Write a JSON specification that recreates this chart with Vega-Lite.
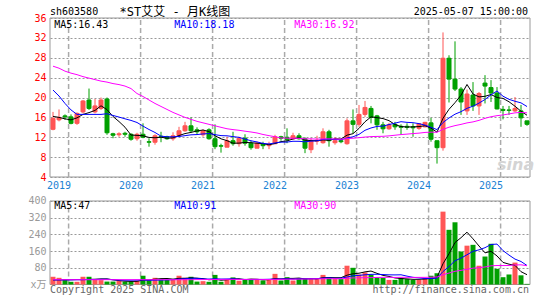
{
  "$schema": "https://vega.github.io/schema/vega-lite/v6.json",
  "width": 480,
  "height": 267,
  "autosize": {"type": "none"},
  "padding": {"left": 50, "top": 18, "right": 15, "bottom": 15},
  "background": "white",
  "config": {"view": {"stroke": null}},
  "datasets": {
    "k": [
      {"m":"2018-10","o":13.6,"h":17.1,"l":13.4,"c":15.8,"v":37,"ma5":16.2,"ma10":21.5,"ma30":26.3,"vma5":22,"vma10":22,"vma30":23},
      {"m":"2018-11","o":15.5,"h":17.6,"l":15.2,"c":16.0,"v":32,"ma5":16.0,"ma10":20.3,"ma30":25.9,"vma5":22,"vma10":22,"vma30":23},
      {"m":"2018-12","o":16.3,"h":16.6,"l":15.5,"c":16.1,"v":22,"ma5":15.7,"ma10":18.8,"ma30":25.3,"vma5":23,"vma10":22,"vma30":23},
      {"m":"2019-01","o":16.1,"h":16.6,"l":14.6,"c":14.8,"v":13,"ma5":15.5,"ma10":17.5,"ma30":24.9,"vma5":23,"vma10":22,"vma30":23},
      {"m":"2019-02","o":14.8,"h":17.0,"l":14.5,"c":16.8,"v":13,"ma5":15.9,"ma10":16.6,"ma30":24.6,"vma5":23.4,"vma10":23,"vma30":23},
      {"m":"2019-03","o":17.1,"h":19.5,"l":16.8,"c":19.3,"v":37,"ma5":16.6,"ma10":16.6,"ma30":24.2,"vma5":23.4,"vma10":23,"vma30":23},
      {"m":"2019-04","o":19.5,"h":21.8,"l":17.5,"c":17.8,"v":37,"ma5":16.96,"ma10":16.6,"ma30":23.9,"vma5":24.4,"vma10":24,"vma30":23},
      {"m":"2019-05","o":17.1,"h":19.7,"l":16.8,"c":18.3,"v":26,"ma5":17.4,"ma10":16.6,"ma30":23.6,"vma5":25.2,"vma10":24,"vma30":23},
      {"m":"2019-06","o":17.8,"h":20.0,"l":17.5,"c":19.5,"v":21,"ma5":18.34,"ma10":16.6,"ma30":23.3,"vma5":26.8,"vma10":25,"vma30":23},
      {"m":"2019-07","o":19.7,"h":20.0,"l":12.5,"c":12.9,"v":14,"ma5":17.56,"ma10":16.73,"ma30":23.1,"vma5":27,"vma10":25.2,"vma30":23},
      {"m":"2019-08","o":12.7,"h":12.9,"l":11.8,"c":12.4,"v":14,"ma5":16.18,"ma10":16.39,"ma30":22.8,"vma5":22.4,"vma10":22.9,"vma30":23},
      {"m":"2019-09","o":12.5,"h":13.0,"l":12.1,"c":12.7,"v":18,"ma5":15.16,"ma10":16.06,"ma30":22.6,"vma5":18.6,"vma10":21.5,"vma30":23},
      {"m":"2019-10","o":12.8,"h":13.1,"l":12.1,"c":12.6,"v":14,"ma5":14.02,"ma10":15.71,"ma30":22.3,"vma5":16.2,"vma10":20.7,"vma30":23},
      {"m":"2019-11","o":12.6,"h":12.8,"l":11.3,"c":11.6,"v":13,"ma5":12.44,"ma10":15.39,"ma30":21.8,"vma5":14.6,"vma10":20.7,"vma30":23},
      {"m":"2019-12","o":11.7,"h":12.9,"l":11.3,"c":12.6,"v":18,"ma5":12.38,"ma10":14.97,"ma30":20.8,"vma5":15.4,"vma10":21.2,"vma30":23},
      {"m":"2020-01","o":12.6,"h":14.8,"l":11.8,"c":12.0,"v":42,"ma5":12.3,"ma10":14.24,"ma30":20.2,"vma5":21,"vma10":21.7,"vma30":23},
      {"m":"2020-02","o":11.1,"h":11.8,"l":10.1,"c":11.0,"v":22,"ma5":11.96,"ma10":13.56,"ma30":19.5,"vma5":21.8,"vma10":20.2,"vma30":23},
      {"m":"2020-03","o":11.0,"h":12.6,"l":10.5,"c":12.3,"v":32,"ma5":11.9,"ma10":12.96,"ma30":18.8,"vma5":25.4,"vma10":20.8,"vma30":23},
      {"m":"2020-04","o":12.2,"h":13.1,"l":11.0,"c":12.1,"v":26,"ma5":12.0,"ma10":12.22,"ma30":18.2,"vma5":28,"vma10":21.3,"vma30":23},
      {"m":"2020-05","o":12.1,"h":12.3,"l":11.5,"c":11.7,"v":22,"ma5":11.82,"ma10":12.1,"ma30":17.6,"vma5":28.8,"vma10":22.1,"vma30":23},
      {"m":"2020-06","o":11.7,"h":13.0,"l":11.3,"c":12.3,"v":26,"ma5":11.88,"ma10":12.09,"ma30":17.0,"vma5":25.6,"vma10":23.3,"vma30":23},
      {"m":"2020-07","o":12.3,"h":14.1,"l":12.1,"c":13.3,"v":42,"ma5":12.34,"ma10":12.15,"ma30":16.5,"vma5":29.6,"vma10":25.7,"vma30":23},
      {"m":"2020-08","o":13.3,"h":15.1,"l":13.1,"c":14.3,"v":32,"ma5":12.74,"ma10":12.32,"ma30":16.0,"vma5":29.6,"vma10":27.5,"vma30":23},
      {"m":"2020-09","o":14.3,"h":16.0,"l":12.9,"c":13.3,"v":37,"ma5":12.98,"ma10":12.49,"ma30":15.6,"vma5":31.8,"vma10":29.9,"vma30":23},
      {"m":"2020-10","o":13.5,"h":14.0,"l":12.5,"c":13.1,"v":14,"ma5":13.26,"ma10":12.54,"ma30":15.2,"vma5":30.2,"vma10":29.5,"vma30":23.5},
      {"m":"2020-11","o":12.5,"h":13.6,"l":12.1,"c":13.3,"v":16,"ma5":13.46,"ma10":12.67,"ma30":14.9,"vma5":28.2,"vma10":26.9,"vma30":23.5},
      {"m":"2020-12","o":13.5,"h":13.8,"l":11.5,"c":11.7,"v":13,"ma5":13.14,"ma10":12.74,"ma30":14.6,"vma5":22.4,"vma10":26,"vma30":24},
      {"m":"2021-01","o":11.7,"h":14.6,"l":9.6,"c":10.1,"v":46,"ma5":12.3,"ma10":12.52,"ma30":14.3,"vma5":25.2,"vma10":27.4,"vma30":24},
      {"m":"2021-02","o":10.3,"h":10.7,"l":8.9,"c":10.2,"v":13,"ma5":11.68,"ma10":12.33,"ma30":14.0,"vma5":20.4,"vma10":26.1,"vma30":24.3},
      {"m":"2021-03","o":10.0,"h":12.1,"l":10.0,"c":11.3,"v":26,"ma5":11.32,"ma10":12.29,"ma30":13.71,"vma5":22.8,"vma10":26.5,"vma30":24.6},
      {"m":"2021-04","o":11.3,"h":13.1,"l":10.3,"c":10.7,"v":34,"ma5":10.8,"ma10":12.13,"ma30":13.54,"vma5":26.4,"vma10":27.3,"vma30":24.5},
      {"m":"2021-05","o":10.7,"h":12.1,"l":10.1,"c":11.8,"v":18,"ma5":10.82,"ma10":11.98,"ma30":13.4,"vma5":27.4,"vma10":24.9,"vma30":24.0},
      {"m":"2021-06","o":11.8,"h":12.6,"l":10.3,"c":10.8,"v":26,"ma5":10.96,"ma10":11.63,"ma30":13.22,"vma5":23.4,"vma10":24.3,"vma30":24.2},
      {"m":"2021-07","o":10.8,"h":11.3,"l":9.5,"c":9.9,"v":26,"ma5":10.9,"ma10":11.29,"ma30":13.06,"vma5":26,"vma10":23.2,"vma30":24.6},
      {"m":"2021-08","o":9.8,"h":11.1,"l":9.8,"c":10.8,"v":22,"ma5":10.8,"ma10":11.06,"ma30":12.86,"vma5":25.2,"vma10":24,"vma30":24.9},
      {"m":"2021-09","o":10.7,"h":11.1,"l":9.6,"c":10.3,"v":19,"ma5":10.72,"ma10":10.76,"ma30":12.56,"vma5":22.2,"vma10":24.3,"vma30":24.3},
      {"m":"2021-10","o":10.3,"h":11.1,"l":9.6,"c":10.6,"v":22,"ma5":10.48,"ma10":10.65,"ma30":12.32,"vma5":23,"vma10":25.2,"vma30":23.8},
      {"m":"2021-11","o":10.7,"h":12.5,"l":10.6,"c":12.1,"v":51,"ma5":10.74,"ma10":10.85,"ma30":12.11,"vma5":28,"vma10":25.7,"vma30":24.6},
      {"m":"2021-12","o":12.1,"h":12.3,"l":11.3,"c":11.8,"v":19,"ma5":11.12,"ma10":11.01,"ma30":11.85,"vma5":26.6,"vma10":26.3,"vma30":24.6},
      {"m":"2022-01","o":12.0,"h":13.8,"l":10.8,"c":11.5,"v":35,"ma5":11.26,"ma10":11.03,"ma30":11.81,"vma5":29.2,"vma10":27.2,"vma30":25.3},
      {"m":"2022-02","o":11.7,"h":12.9,"l":11.5,"c":12.3,"v":19,"ma5":11.66,"ma10":11.19,"ma30":11.8,"vma5":29.2,"vma10":25.7,"vma30":25.4},
      {"m":"2022-03","o":12.3,"h":12.8,"l":11.5,"c":11.7,"v":30,"ma5":11.88,"ma10":11.18,"ma30":11.77,"vma5":30.8,"vma10":26.9,"vma30":25.8},
      {"m":"2022-04","o":11.7,"h":12.0,"l":8.8,"c":9.8,"v":30,"ma5":11.42,"ma10":11.08,"ma30":11.68,"vma5":26.6,"vma10":27.3,"vma30":26.4},
      {"m":"2022-05","o":9.5,"h":11.8,"l":8.8,"c":11.3,"v":26,"ma5":11.32,"ma10":11.22,"ma30":11.67,"vma5":28,"vma10":27.3,"vma30":26.8},
      {"m":"2022-06","o":11.2,"h":12.3,"l":10.5,"c":11.4,"v":30,"ma5":11.3,"ma10":11.28,"ma30":11.63,"vma5":27,"vma10":28.1,"vma30":27.2},
      {"m":"2022-07","o":10.9,"h":13.8,"l":10.7,"c":13.1,"v":46,"ma5":11.46,"ma10":11.56,"ma30":11.66,"vma5":32.4,"vma10":30.8,"vma30":27.3},
      {"m":"2022-08","o":13.1,"h":13.5,"l":10.1,"c":11.3,"v":35,"ma5":11.38,"ma10":11.63,"ma30":11.67,"vma5":33.4,"vma10":32.1,"vma30":27.8},
      {"m":"2022-09","o":10.9,"h":12.0,"l":10.5,"c":11.3,"v":26,"ma5":11.68,"ma10":11.55,"ma30":11.64,"vma5":32.6,"vma10":29.6,"vma30":27.6},
      {"m":"2022-10","o":11.3,"h":11.6,"l":10.8,"c":11.1,"v":26,"ma5":11.64,"ma10":11.48,"ma30":11.61,"vma5":32.6,"vma10":30.3,"vma30":27.6},
      {"m":"2022-11","o":10.7,"h":15.8,"l":10.5,"c":15.3,"v":90,"ma5":12.42,"ma10":11.86,"ma30":11.73,"vma5":44.6,"vma10":35.8,"vma30":29.8},
      {"m":"2022-12","o":15.3,"h":17.6,"l":12.8,"c":14.6,"v":80,"ma5":12.72,"ma10":12.09,"ma30":11.8,"vma5":51.4,"vma10":41.9,"vma30":31.6},
      {"m":"2023-01","o":14.6,"h":18.5,"l":14.1,"c":16.6,"v":48,"ma5":13.78,"ma10":12.58,"ma30":11.91,"vma5":54,"vma10":43.7,"vma30":31.8},
      {"m":"2023-02","o":16.6,"h":19.3,"l":16.1,"c":18.0,"v":58,"ma5":15.12,"ma10":13.4,"ma30":12.04,"vma5":60.4,"vma10":46.5,"vma30":32.7},
      {"m":"2023-03","o":17.8,"h":18.3,"l":14.8,"c":16.0,"v":46,"ma5":16.1,"ma10":13.87,"ma30":12.13,"vma5":64.4,"vma10":48.5,"vma30":33},
      {"m":"2023-04","o":16.3,"h":16.5,"l":13.5,"c":14.5,"v":35,"ma5":15.94,"ma10":14.18,"ma30":12.17,"vma5":53.4,"vma10":49,"vma30":33.7},
      {"m":"2023-05","o":14.5,"h":15.1,"l":12.8,"c":13.7,"v":32,"ma5":15.76,"ma10":14.24,"ma30":12.19,"vma5":43.8,"vma10":47.6,"vma30":34.2},
      {"m":"2023-06","o":13.7,"h":14.9,"l":13.5,"c":14.5,"v":22,"ma5":15.34,"ma10":14.56,"ma30":12.28,"vma5":38.6,"vma10":46.3,"vma30":34.5},
      {"m":"2023-07","o":14.6,"h":15.1,"l":13.5,"c":14.1,"v":22,"ma5":14.56,"ma10":14.84,"ma30":12.41,"vma5":31.4,"vma10":45.9,"vma30":33.7},
      {"m":"2023-08","o":14.2,"h":14.6,"l":12.5,"c":14.0,"v":32,"ma5":14.16,"ma10":15.13,"ma30":12.54,"vma5":28.6,"vma10":46.5,"vma30":34.4},
      {"m":"2023-09","o":14.2,"h":14.8,"l":13.5,"c":14.0,"v":26,"ma5":14.06,"ma10":15.0,"ma30":12.63,"vma5":26.8,"vma10":40.1,"vma30":34.4},
      {"m":"2023-10","o":14.1,"h":14.8,"l":12.1,"c":13.9,"v":22,"ma5":14.1,"ma10":14.93,"ma30":12.74,"vma5":24.8,"vma10":34.3,"vma30":34},
      {"m":"2023-11","o":13.8,"h":14.8,"l":13.5,"c":14.7,"v":22,"ma5":14.14,"ma10":14.74,"ma30":12.83,"vma5":24.8,"vma10":31.7,"vma30":34.1},
      {"m":"2023-12","o":14.1,"h":15.1,"l":14.0,"c":15.0,"v":30,"ma5":14.32,"ma10":14.44,"ma30":12.97,"vma5":26.4,"vma10":28.9,"vma30":34.2},
      {"m":"2024-01","o":14.9,"h":15.9,"l":11.1,"c":11.6,"v":42,"ma5":13.84,"ma10":14.0,"ma30":13.03,"vma5":28.4,"vma10":28.5,"vma30":34.8},
      {"m":"2024-02","o":11.3,"h":11.3,"l":6.7,"c":9.9,"v":54,"ma5":13.02,"ma10":13.54,"ma30":13.0,"vma5":34,"vma10":30.4,"vma30":35.8},
      {"m":"2024-03","o":9.9,"h":33.1,"l":9.3,"c":27.9,"v":349,"ma5":15.82,"ma10":14.96,"ma30":13.59,"vma5":99.4,"vma10":62.1,"vma30":46.8},
      {"m":"2024-04","o":27.9,"h":28.5,"l":19.0,"c":23.7,"v":262,"ma5":17.62,"ma10":15.88,"ma30":14.02,"vma5":147.4,"vma10":86.1,"vma30":54.8},
      {"m":"2024-05","o":23.7,"h":31.3,"l":21.3,"c":21.7,"v":298,"ma5":18.96,"ma10":16.64,"ma30":14.34,"vma5":201,"vma10":113.7,"vma30":63.1},
      {"m":"2024-06","o":21.7,"h":22.1,"l":16.5,"c":19.1,"v":158,"ma5":20.46,"ma10":17.15,"ma30":14.59,"vma5":224.2,"vma10":126.3,"vma30":67.7},
      {"m":"2024-07","o":17.3,"h":21.6,"l":16.5,"c":20.7,"v":186,"ma5":22.62,"ma10":17.82,"ma30":14.89,"vma5":250.6,"vma10":142.3,"vma30":72.7},
      {"m":"2024-08","o":20.5,"h":23.1,"l":17.3,"c":18.3,"v":190,"ma5":20.7,"ma10":18.26,"ma30":15.09,"vma5":218.8,"vma10":159.1,"vma30":78.4},
      {"m":"2024-09","o":18.3,"h":21.1,"l":16.5,"c":20.8,"v":90,"ma5":20.12,"ma10":18.87,"ma30":15.4,"vma5":184.4,"vma10":165.9,"vma30":80.4},
      {"m":"2024-10","o":22.9,"h":24.5,"l":18.8,"c":22.3,"v":134,"ma5":20.24,"ma10":19.6,"ma30":15.81,"vma5":151.6,"vma10":176.3,"vma30":83.9},
      {"m":"2024-11","o":22.0,"h":23.5,"l":19.1,"c":20.9,"v":195,"ma5":20.6,"ma10":20.53,"ma30":16.13,"vma5":159,"vma10":191.6,"vma30":89.5},
      {"m":"2024-12","o":20.9,"h":22.1,"l":17.6,"c":17.7,"v":75,"ma5":20.0,"ma10":21.31,"ma30":16.34,"vma5":136.8,"vma10":193.7,"vma30":91},
      {"m":"2025-01","o":17.6,"h":18.3,"l":15.6,"c":17.4,"v":35,"ma5":19.82,"ma10":20.26,"ma30":16.49,"vma5":105.8,"vma10":162.3,"vma30":90.7},
      {"m":"2025-02","o":17.5,"h":18.3,"l":16.5,"c":17.4,"v":48,"ma5":19.14,"ma10":19.63,"ma30":16.69,"vma5":97.4,"vma10":140.9,"vma30":91.1},
      {"m":"2025-03","o":17.3,"h":20.1,"l":17.1,"c":17.8,"v":105,"ma5":18.24,"ma10":19.24,"ma30":16.91,"vma5":91.6,"vma10":121.6,"vma30":93.7},
      {"m":"2025-04","o":17.3,"h":18.5,"l":14.1,"c":15.9,"v":44,"ma5":17.24,"ma10":18.92,"ma30":17.0,"vma5":61.4,"vma10":110.2,"vma30":94.3},
      {"m":"2025-05","o":15.3,"h":15.3,"l":14.3,"c":14.6,"v":3,"ma5":16.43,"ma10":18.18,"ma30":16.92,"vma5":47,"vma10":91,"vma30":90}
    ],
    "years": [
      {"m":"2019-01"},{"m":"2020-01"},{"m":"2021-01"},{"m":"2022-01"},{"m":"2023-01"},{"m":"2024-01"},{"m":"2025-01"}
    ]
  },
  "data": {"name": "k"},
  "layer": [
    {
      "layer": [
        {
          "data": {"values": [{}]},
          "mark": {"type": "rect", "fill": "transparent", "stroke": "#999999", "strokeWidth": 1},
          "encoding": {
            "y": {"datum": 4, "type": "quantitative", "scale": {"domain": [-17.735, 36], "nice": false, "zero": false}},
            "y2": {"datum": 36}
          }
        },
        {
          "data": {"name": "years"},
          "mark": {"type": "rule", "color": "#aaaaaa", "strokeWidth": 1.5, "strokeDash": [5, 3]},
          "encoding": {
            "x": {"field": "m", "type": "ordinal", "scale": {"type": "band", "paddingInner": 0, "paddingOuter": 0}, "bandPosition": 0.1},
            "y": {"datum": 4, "type": "quantitative", "scale": {"domain": [-17.735, 36], "nice": false, "zero": false}},
            "y2": {"datum": 36}
          }
        },
        {
          "mark": {"type": "rule", "strokeWidth": 1},
          "encoding": {
            "x": {"field": "m", "type": "ordinal", "scale": {"type": "band", "paddingInner": 0, "paddingOuter": 0}, "bandPosition": 0.5,
              "axis": {"title": null, "orient": "bottom", "offset": -108, "values": ["2019-01","2020-01","2021-01","2022-01","2023-01","2024-01","2025-01"], "labelExpr": "substring(datum.label, 0, 4)", "bandPosition": 0.1, "domain": false, "ticks": false, "grid": false, "labelColor": "#1a82d3", "labelFont": "DejaVu Sans Mono", "labelFontSize": 10, "labelPadding": 8, "labelAngle": 0, "labelOverlap": false}},
            "y": {"field": "l", "type": "quantitative", "scale": {"domain": [-17.735, 36], "nice": false, "zero": false},
              "axis": {"title": null, "orient": "left", "values": [4, 8, 12, 16, 20, 24, 28, 32, 36], "tickCount": 30, "grid": true, "gridDash": [2, 2], "gridColor": "#999999", "gridOpacity": 1, "domain": false, "ticks": false, "labelColor": "#ff0000", "labelFont": "DejaVu Sans Mono", "labelFontSize": 10, "labelPadding": 4, "labelOverlap": false}},
            "y2": {"field": "h"},
            "color": {"condition": {"test": "datum.c >= datum.o", "value": "#ff5555"}, "value": "#00a000"}
          }
        },
        {
          "mark": {"type": "bar", "size": 4, "strokeWidth": 1},
          "encoding": {
            "x": {"field": "m", "type": "ordinal", "scale": {"type": "band", "paddingInner": 0, "paddingOuter": 0}},
            "y": {"field": "o", "type": "quantitative", "scale": {"domain": [-17.735, 36], "nice": false, "zero": false}},
            "y2": {"field": "c"},
            "fill": {"condition": {"test": "datum.c >= datum.o", "value": "#ff5555"}, "value": "#00a000"},
            "stroke": {"condition": {"test": "datum.c >= datum.o", "value": "#ff5555"}, "value": "#00a000"}
          }
        },
        {
          "mark": {"type": "line", "strokeWidth": 1, "color": "#000000"},
          "encoding": {
            "x": {"field": "m", "type": "ordinal", "scale": {"type": "band", "paddingInner": 0, "paddingOuter": 0}, "bandPosition": 0.5},
            "y": {"field": "ma5", "type": "quantitative", "scale": {"domain": [-17.735, 36], "nice": false, "zero": false}}
          }
        },
        {
          "mark": {"type": "line", "strokeWidth": 1, "color": "#0000ff"},
          "encoding": {
            "x": {"field": "m", "type": "ordinal", "scale": {"type": "band", "paddingInner": 0, "paddingOuter": 0}, "bandPosition": 0.5},
            "y": {"field": "ma10", "type": "quantitative", "scale": {"domain": [-17.735, 36], "nice": false, "zero": false}}
          }
        },
        {
          "mark": {"type": "line", "strokeWidth": 1, "color": "#ff00ff"},
          "encoding": {
            "x": {"field": "m", "type": "ordinal", "scale": {"type": "band", "paddingInner": 0, "paddingOuter": 0}, "bandPosition": 0.5},
            "y": {"field": "ma30", "type": "quantitative", "scale": {"domain": [-17.735, 36], "nice": false, "zero": false}}
          }
        },
        {
          "data": {"values": [{}]},
          "mark": {"type": "text", "text": "sina", "align": "left", "baseline": "middle", "font": "DejaVu Sans", "fontSize": 16, "fontWeight": "bold", "fontStyle": "italic", "color": "#d4d4d4"},
          "encoding": {
            "x": {"datum": "2024-12", "type": "ordinal", "scale": {"type": "band", "paddingInner": 0, "paddingOuter": 0}, "bandPosition": 0.5},
            "y": {"datum": 6.4, "type": "quantitative", "scale": {"domain": [-17.735, 36], "nice": false, "zero": false}}
          }
        },
        {
          "data": {"values": [{}]},
          "mark": {"type": "text", "text": "sh603580", "align": "left", "baseline": "middle", "font": "DejaVu Sans Mono", "fontSize": 10, "color": "#000000"},
          "encoding": {
            "x": {"datum": "2018-10", "type": "ordinal", "scale": {"type": "band", "paddingInner": 0, "paddingOuter": 0}, "bandPosition": 0},
            "y": {"datum": 37.21, "type": "quantitative", "scale": {"domain": [-17.735, 36], "nice": false, "zero": false}}
          }
        },
        {
          "data": {"values": [{}]},
          "mark": {"type": "text", "text": "*ST艾艾 - 月K线图", "align": "left", "baseline": "middle", "font": "DejaVu Sans Mono, Noto Sans CJK SC", "fontSize": 12, "color": "#000000"},
          "encoding": {
            "x": {"datum": "2019-09", "type": "ordinal", "scale": {"type": "band", "paddingInner": 0, "paddingOuter": 0}, "bandPosition": 0.6},
            "y": {"datum": 37.21, "type": "quantitative", "scale": {"domain": [-17.735, 36], "nice": false, "zero": false}}
          }
        },
        {
          "data": {"values": [{}]},
          "mark": {"type": "text", "text": "2025-05-07 15:00:00", "align": "right", "baseline": "middle", "font": "DejaVu Sans Mono", "fontSize": 10, "color": "#000000"},
          "encoding": {
            "x": {"datum": "2025-05", "type": "ordinal", "scale": {"type": "band", "paddingInner": 0, "paddingOuter": 0}, "bandPosition": 0.67},
            "y": {"datum": 37.21, "type": "quantitative", "scale": {"domain": [-17.735, 36], "nice": false, "zero": false}}
          }
        },
        {
          "data": {"values": [{}]},
          "mark": {"type": "text", "text": "MA5:16.43", "align": "left", "baseline": "middle", "font": "DejaVu Sans Mono", "fontSize": 10, "color": "#000000"},
          "encoding": {
            "x": {"datum": "2018-10", "type": "ordinal", "scale": {"type": "band", "paddingInner": 0, "paddingOuter": 0}, "bandPosition": 0.7},
            "y": {"datum": 34.6, "type": "quantitative", "scale": {"domain": [-17.735, 36], "nice": false, "zero": false}}
          }
        },
        {
          "data": {"values": [{}]},
          "mark": {"type": "text", "text": "MA10:18.18", "align": "left", "baseline": "middle", "font": "DejaVu Sans Mono", "fontSize": 10, "color": "#0000ff"},
          "encoding": {
            "x": {"datum": "2020-06", "type": "ordinal", "scale": {"type": "band", "paddingInner": 0, "paddingOuter": 0}, "bandPosition": 0.7},
            "y": {"datum": 34.6, "type": "quantitative", "scale": {"domain": [-17.735, 36], "nice": false, "zero": false}}
          }
        },
        {
          "data": {"values": [{}]},
          "mark": {"type": "text", "text": "MA30:16.92", "align": "left", "baseline": "middle", "font": "DejaVu Sans Mono", "fontSize": 10, "color": "#ff00ff"},
          "encoding": {
            "x": {"datum": "2022-02", "type": "ordinal", "scale": {"type": "band", "paddingInner": 0, "paddingOuter": 0}, "bandPosition": 0.7},
            "y": {"datum": 34.6, "type": "quantitative", "scale": {"domain": [-17.735, 36], "nice": false, "zero": false}}
          }
        }
      ]
    },
    {
      "layer": [
        {
          "data": {"values": [{}]},
          "mark": {"type": "rect", "fill": "transparent", "stroke": "#999999", "strokeWidth": 1},
          "encoding": {
            "y": {"datum": 0, "type": "quantitative", "scale": {"domain": [-2.4, 1276.6], "nice": false, "zero": false}},
            "y2": {"datum": 400}
          }
        },
        {
          "data": {"name": "years"},
          "mark": {"type": "rule", "color": "#aaaaaa", "strokeWidth": 1.5, "strokeDash": [5, 3]},
          "encoding": {
            "x": {"field": "m", "type": "ordinal", "scale": {"type": "band", "paddingInner": 0, "paddingOuter": 0}, "bandPosition": 0.1},
            "y": {"datum": 0, "type": "quantitative", "scale": {"domain": [-2.4, 1276.6], "nice": false, "zero": false}},
            "y2": {"datum": 400}
          }
        },
        {
          "mark": {"type": "bar", "size": 5},
          "encoding": {
            "x": {"field": "m", "type": "ordinal", "scale": {"type": "band", "paddingInner": 0, "paddingOuter": 0}},
            "y": {"field": "v", "type": "quantitative", "scale": {"domain": [-2.4, 1276.6], "nice": false, "zero": false},
              "axis": {"title": null, "orient": "left", "values": [0, 80, 160, 240, 320, 400], "tickCount": 30, "labelExpr": "datum.value == 0 ? 'x万' : datum.label", "grid": true, "gridDash": [2, 2], "gridColor": "#999999", "gridOpacity": 1, "domain": false, "ticks": false, "labelColor": "#999999", "labelFont": "DejaVu Sans Mono, Noto Sans CJK SC", "labelFontSize": 10, "labelPadding": 4, "labelOverlap": false}},
            "y2": {"datum": 0},
            "color": {"condition": {"test": "datum.c >= datum.o", "value": "#ff5555"}, "value": "#00a000"}
          }
        },
        {
          "mark": {"type": "line", "strokeWidth": 1, "color": "#000000"},
          "encoding": {
            "x": {"field": "m", "type": "ordinal", "scale": {"type": "band", "paddingInner": 0, "paddingOuter": 0}, "bandPosition": 0.5},
            "y": {"field": "vma5", "type": "quantitative", "scale": {"domain": [-2.4, 1276.6], "nice": false, "zero": false}}
          }
        },
        {
          "mark": {"type": "line", "strokeWidth": 1, "color": "#0000ff"},
          "encoding": {
            "x": {"field": "m", "type": "ordinal", "scale": {"type": "band", "paddingInner": 0, "paddingOuter": 0}, "bandPosition": 0.5},
            "y": {"field": "vma10", "type": "quantitative", "scale": {"domain": [-2.4, 1276.6], "nice": false, "zero": false}}
          }
        },
        {
          "mark": {"type": "line", "strokeWidth": 1, "color": "#ff00ff"},
          "encoding": {
            "x": {"field": "m", "type": "ordinal", "scale": {"type": "band", "paddingInner": 0, "paddingOuter": 0}, "bandPosition": 0.5},
            "y": {"field": "vma30", "type": "quantitative", "scale": {"domain": [-2.4, 1276.6], "nice": false, "zero": false}}
          }
        },
        {
          "data": {"values": [{}]},
          "mark": {"type": "text", "text": "MA5:47", "align": "left", "baseline": "middle", "font": "DejaVu Sans Mono", "fontSize": 10, "color": "#000000"},
          "encoding": {
            "x": {"datum": "2018-10", "type": "ordinal", "scale": {"type": "band", "paddingInner": 0, "paddingOuter": 0}, "bandPosition": 0.7},
            "y": {"datum": 376, "type": "quantitative", "scale": {"domain": [-2.4, 1276.6], "nice": false, "zero": false}}
          }
        },
        {
          "data": {"values": [{}]},
          "mark": {"type": "text", "text": "MA10:91", "align": "left", "baseline": "middle", "font": "DejaVu Sans Mono", "fontSize": 10, "color": "#0000ff"},
          "encoding": {
            "x": {"datum": "2020-06", "type": "ordinal", "scale": {"type": "band", "paddingInner": 0, "paddingOuter": 0}, "bandPosition": 0.7},
            "y": {"datum": 376, "type": "quantitative", "scale": {"domain": [-2.4, 1276.6], "nice": false, "zero": false}}
          }
        },
        {
          "data": {"values": [{}]},
          "mark": {"type": "text", "text": "MA30:90", "align": "left", "baseline": "middle", "font": "DejaVu Sans Mono", "fontSize": 10, "color": "#ff00ff"},
          "encoding": {
            "x": {"datum": "2022-02", "type": "ordinal", "scale": {"type": "band", "paddingInner": 0, "paddingOuter": 0}, "bandPosition": 0.7},
            "y": {"datum": 376, "type": "quantitative", "scale": {"domain": [-2.4, 1276.6], "nice": false, "zero": false}}
          }
        },
        {
          "data": {"values": [{}]},
          "mark": {"type": "text", "text": "Copyright 2025 SINA.COM", "align": "left", "baseline": "middle", "font": "DejaVu Sans Mono", "fontSize": 10, "color": "#666666"},
          "encoding": {
            "x": {"datum": "2018-10", "type": "ordinal", "scale": {"type": "band", "paddingInner": 0, "paddingOuter": 0}, "bandPosition": 0},
            "y": {"datum": -28.7, "type": "quantitative", "scale": {"domain": [-2.4, 1276.6], "nice": false, "zero": false}}
          }
        },
        {
          "data": {"values": [{}]},
          "mark": {"type": "text", "text": "http://finance.sina.com.cn", "align": "right", "baseline": "middle", "font": "DejaVu Sans Mono", "fontSize": 10, "color": "#666666"},
          "encoding": {
            "x": {"datum": "2025-05", "type": "ordinal", "scale": {"type": "band", "paddingInner": 0, "paddingOuter": 0}, "bandPosition": 0.83},
            "y": {"datum": -28.7, "type": "quantitative", "scale": {"domain": [-2.4, 1276.6], "nice": false, "zero": false}}
          }
        }
      ]
    }
  ],
  "resolve": {"scale": {"y": "independent"}, "axis": {"y": "independent"}}
}
